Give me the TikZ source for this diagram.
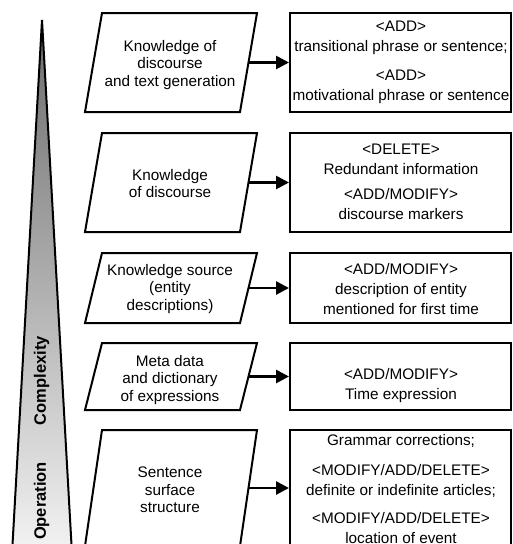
\documentclass[tikz,border=0pt]{standalone}
\usepackage{fontspec}
\setmainfont{Liberation Sans}
\usetikzlibrary{arrows.meta}
\tikzset{
  pbox/.style={draw=black, line width=2pt, line join=miter},
  rbox/.style={draw=black, line width=2pt, minimum width=221pt, inner sep=0pt},
  ltext/.style={align=center, inner sep=0pt, font=\fontsize{15.3}{17.5}\selectfont},
  rtext/.style={align=center, inner sep=0pt, font=\fontsize{15.3}{20}\selectfont},
  arr/.style={line width=2.7pt, -{Triangle[length=13pt,width=13pt]}, shorten >=0pt},
  axislabel/.style={rotate=90, inner sep=0pt, font=\bfseries\fontsize{16.5}{19}\selectfont}
}
\begin{document}
\begin{tikzpicture}[x=1pt, y=-1pt]
\useasboundingbox (0,0) rectangle (513,544);
\clip (0,0) rectangle (513,544);
\fill[white] (0,0) rectangle (513,544);
% complexity wedge
\shade[top color=black!58, bottom color=white] (42,20) -- (74.6,600) -- (9.4,600) -- cycle;
\draw[line width=2pt, line join=miter] (42,20) -- (74.6,600) -- (9.4,600) -- cycle;
\node[axislabel] (axis) at (41.5,438) {Operation\hspace{37pt}Complexity};
% parallelograms (knowledge sources)
\draw[pbox] (102,13) -- (257,13) -- (240,112) -- (85,112) -- cycle;
\draw[pbox] (102,133) -- (257,133) -- (240,232) -- (85,232) -- cycle;
\draw[pbox] (102,253) -- (257,253) -- (240,323) -- (85,323) -- cycle;
\draw[pbox] (102,343) -- (257,343) -- (240,410) -- (85,410) -- cycle;
\draw[pbox] (102,430) -- (257,430) -- (240,546) -- (85,546) -- cycle;
\coordinate (p1) at (248.5,62.5);
\coordinate (p2) at (248.5,182.5);
\coordinate (p3) at (248.5,288);
\coordinate (p4) at (248.5,376.5);
\coordinate (p5) at (248.5,488);
\node[ltext] (l1) at (170,65) {Knowledge of\\discourse\\and text generation};
\node[ltext] (l2) at (170,183.5) {Knowledge\\of discourse};
\node[ltext] (l3) at (170,289) {Knowledge source\\(entity\\descriptions)};
\node[ltext] (l4) at (170,380) {Meta data\\and dictionary\\of expressions};
\node[ltext] (l5) at (170,490) {Sentence\\surface\\structure};
% operation boxes
\node[rbox, minimum height=99pt] (r1) at (400.5,62.5) {};
\node[rbox, minimum height=99pt] (r2) at (400.5,182.5) {};
\node[rbox, minimum height=70pt] (r3) at (400.5,288) {};
\node[rbox, minimum height=67pt] (r4) at (400.5,376.5) {};
\node[rbox, minimum height=116pt] (r5) at (400.5,488) {};
\node[rtext] (t1) at (401,62.5) {<ADD>\\transitional phrase or sentence;\\[9pt]<ADD>\\motivational phrase or sentence};
\node[rtext] (t2) at (401,182) {<DELETE>\\Redundant information\\[5pt]<ADD/MODIFY>\\discourse markers};
\node[rtext] (t3) at (401,289) {<ADD/MODIFY>\\description of entity\\mentioned for first time};
\node[rtext] (t4) at (401,385.5) {<ADD/MODIFY>\\Time expression};
\node[rtext] (t5) at (401,489.5) {Grammar corrections;\\[10pt]<MODIFY/ADD/DELETE>\\definite or indefinite articles;\\[8pt]<MODIFY/ADD/DELETE>\\location of event};
% connectors
\draw[arr] (p1) -- (r1.west);
\draw[arr] (p2) -- (r2.west);
\draw[arr] (p3) -- (r3.west);
\draw[arr] (p4) -- (r4.west);
\draw[arr] (p5) -- (r5.west);
\end{tikzpicture}
\end{document}
